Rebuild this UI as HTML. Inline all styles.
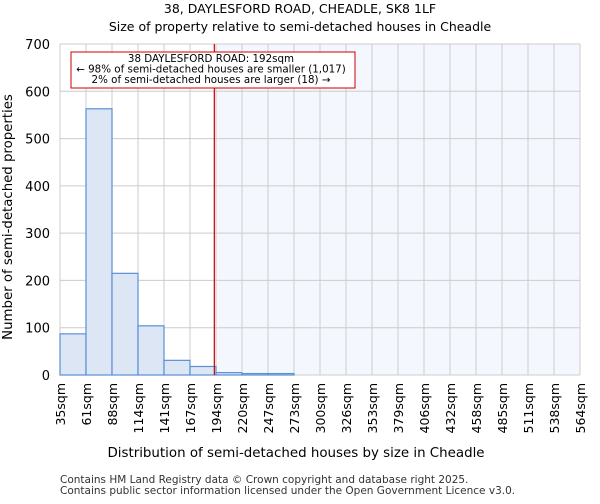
<!DOCTYPE html>
<html><head><meta charset="utf-8"><style>
body{margin:0;background:#fff;font-family:"DejaVu Sans","Liberation Sans",sans-serif}
svg text{font-family:"DejaVu Sans","Liberation Sans",sans-serif}
</style></head><body>
<svg id="chart" width="600" height="500">
<text x="300" y="13" text-anchor="middle" font-size="12.5">38, DAYLESFORD ROAD, CHEADLE, SK8 1LF</text>
<text x="300" y="31" text-anchor="middle" font-size="12.5">Size of property relative to semi-detached houses in Cheadle</text>
<g id="plot"></g>
<text x="296" y="457" text-anchor="middle" font-size="13.4">Distribution of semi-detached houses by size in Cheadle</text>
<text transform="translate(12,217) rotate(-90)" text-anchor="middle" font-size="13.3">Number of semi-detached properties</text>
<text x="60" y="483" font-size="10.5" fill="#333">Contains HM Land Registry data © Crown copyright and database right 2025.</text>
<text x="60" y="494" font-size="10.5" fill="#333">Contains public sector information licensed under the Open Government Licence v3.0.</text>
</svg>
<script>
const binEdges=[35,61,88,114,141,167,194,220,247,273,300,326,353,379,406,432,458,485,511,538,564];
const edgeLabels=["35sqm","61sqm","88sqm","114sqm","141sqm","167sqm","194sqm","220sqm","247sqm","273sqm","300sqm","326sqm","353sqm","379sqm","406sqm","432sqm","458sqm","485sqm","511sqm","538sqm","564sqm"];
const counts=[87,563,215,104,31,18,5,3,3,0,0,0,0,0,0,0,0,0,0,0];
const yTicks=[0,100,200,300,400,500,600,700];
const subject=192;
const L=60,R=580,T=44,B=375,N=counts.length,YMAX=700;
const xi=i=>L+(R-L)*i/N;
const xv=v=>L+(R-L)*(v-35)/(564-35);
const y=v=>B-(B-T)*v/YMAX;
const NS="http://www.w3.org/2000/svg";
const g=document.getElementById('plot');
function mk(t,a){const e=document.createElementNS(NS,t);for(const k in a)e.setAttribute(k,a[k]);g.appendChild(e);return e;}
const sx=xv(subject);
let e=mk('rect',{x:sx,y:T,width:R-sx,height:B-T,fill:'#f4f7fd'});


for(let i=0;i<=N;i++){e=mk('line',{x1:xi(i),x2:xi(i),y1:T,y2:B,stroke:'#ccc','stroke-width':1});

}
yTicks.forEach(t=>{e=mk('line',{x1:L,x2:R,y1:y(t),y2:y(t),stroke:'#ccc','stroke-width':1});


e=mk('text',{x:L-10,y:y(t)+5,'text-anchor':'end','font-size':13});e.textContent=t;

});
counts.forEach((c,i)=>{if(c<=0)return;e=mk('rect',{x:xi(i),y:y(c),width:xi(i+1)-xi(i),height:B-y(c),fill:'#dce6f4',stroke:'#5b8fd6','stroke-width':1.2});

});
edgeLabels.forEach((l,i)=>{e=mk('text',{transform:`translate(${xi(i)+5},383) rotate(-90)`,'text-anchor':'end','font-size':12.5});e.textContent=l;

});
e=mk('line',{x1:sx,x2:sx,y1:T,y2:B,stroke:'#cc0000','stroke-width':1.2});


e=mk('rect',{x:71,y:52,width:284,height:36,fill:'#fff',stroke:'#cc0000','stroke-width':1});


["38 DAYLESFORD ROAD: 192sqm","← 98% of semi-detached houses are smaller (1,017)","2% of semi-detached houses are larger (18) →"].forEach((s,i)=>{
e=mk('text',{x:211,y:62+i*10.5,'text-anchor':'middle','font-size':10.3});e.textContent=s;

});
</script>
</body></html>
